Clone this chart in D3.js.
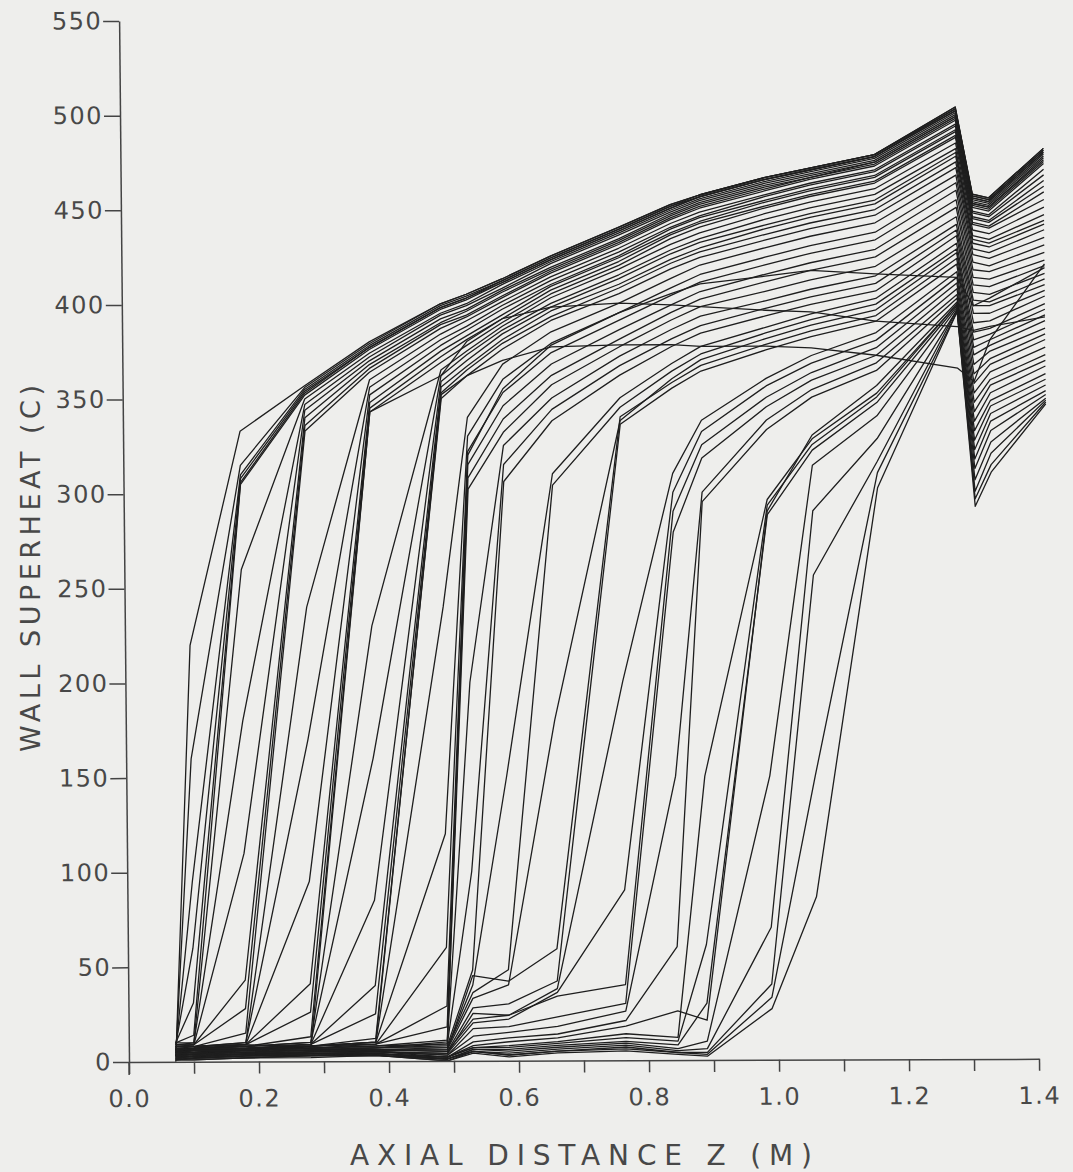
<!DOCTYPE html>
<html>
<head>
<meta charset="utf-8">
<script src="https://cdn.jsdelivr.net/npm/d3@7"></script>
<style>
  body { margin: 0; background: #eeeeec; }
  svg { display: block; }
</style>
</head>
<body>
<svg id="chart" width="1073" height="1172"></svg>
<script>
// axial nodes (m) at which the wall superheat was plotted
const axialZ = [0.072, 0.10, 0.18, 0.28, 0.38, 0.49, 0.53, 0.585, 0.66, 0.765, 0.845, 0.89, 0.99, 1.06, 1.16, 1.285, 1.31, 1.335, 1.42];

// wall superheat (C) per curve, one value per node above
// quench front between 0.07 and 0.10 m
const frontNode1 = [
  [0, 220, 333, 357, 380, 400, 405, 413, 425, 440, 452, 457, 466, 471, 478, 503, 457, 455, 481],
  [3, 160, 315, 356, 379, 400, 405, 413, 425, 440, 452, 457, 466, 471, 478, 503, 457, 455, 481],
  [6, 95, 310, 355, 378, 399, 404, 412, 424, 439, 451, 457, 466, 471, 478, 502, 456, 454, 480],
  [9, 60, 308, 354, 377, 398, 403, 412, 424, 439, 451, 456, 465, 470, 477, 502, 456, 454, 480],
  [10, 31, 306, 353, 377, 398, 403, 411, 423, 438, 450, 456, 465, 470, 477, 501, 455, 453, 479],
  [10, 14, 305, 352, 376, 397, 402, 411, 423, 438, 450, 456, 465, 470, 477, 501, 455, 453, 479]
];
// front at 0.18 m
const frontNode2 = [
  [10, 10, 260, 350, 374, 395, 400, 410, 422, 437, 449, 455, 464, 469, 476, 500, 454, 452, 478],
  [9, 10, 180, 347, 372, 394, 399, 408, 421, 436, 448, 454, 463, 468, 475, 499, 453, 451, 477],
  [9, 9, 110, 344, 370, 392, 397, 407, 419, 434, 447, 453, 462, 467, 474, 498, 452, 450, 476],
  [9, 9, 43, 340, 368, 390, 396, 406, 418, 433, 446, 452, 461, 466, 474, 498, 452, 450, 475],
  [8, 9, 28, 336, 366, 389, 394, 404, 417, 432, 445, 451, 460, 466, 473, 497, 451, 449, 474],
  [8, 8, 15, 333, 364, 387, 393, 403, 416, 431, 444, 450, 459, 465, 472, 496, 450, 448, 473]
];
// front at 0.28 m
const frontNode3 = [
  [8, 8, 10, 240, 360, 384, 391, 401, 414, 429, 442, 448, 457, 463, 470, 494, 448, 446, 470],
  [8, 8, 10, 170, 356, 381, 388, 399, 412, 427, 440, 446, 456, 462, 469, 493, 447, 445, 467],
  [8, 8, 9, 95, 352, 378, 386, 397, 410, 425, 439, 445, 454, 460, 467, 491, 445, 443, 464],
  [7, 8, 9, 41, 348, 375, 383, 394, 409, 424, 437, 443, 453, 459, 466, 490, 444, 442, 461],
  [7, 7, 9, 26, 345, 372, 381, 392, 407, 422, 436, 442, 451, 457, 464, 488, 442, 440, 458],
  [7, 7, 8, 13, 343, 369, 378, 390, 405, 420, 434, 440, 450, 456, 463, 487, 441, 439, 454]
];
// front at 0.38 m
const frontNode4 = [
  [7, 7, 8, 10, 230, 365, 375, 388, 403, 418, 431, 437, 447, 453, 460, 484, 438, 436, 450],
  [7, 7, 8, 10, 160, 362, 373, 386, 400, 415, 428, 434, 444, 450, 457, 481, 435, 433, 446],
  [6, 7, 8, 9, 85, 359, 370, 384, 398, 413, 426, 432, 441, 447, 454, 479, 433, 431, 443],
  [6, 7, 7, 9, 40, 356, 367, 381, 396, 410, 423, 429, 439, 445, 452, 477, 431, 429, 441],
  [6, 6, 7, 9, 25, 353, 365, 379, 393, 408, 421, 427, 436, 442, 449, 474, 428, 426, 438],
  [6, 6, 7, 8, 12, 350, 362, 376, 391, 405, 418, 424, 433, 439, 446, 471, 425, 423, 434]
];
// front at 0.49 m
const frontNode5 = [
  [6, 6, 7, 8, 10, 240, 340, 368, 385, 400, 413, 420, 429, 435, 442, 467, 421, 419, 430],
  [5, 6, 7, 8, 10, 120, 330, 360, 379, 395, 408, 415, 424, 430, 437, 463, 417, 416, 426],
  [5, 6, 7, 8, 9, 60, 322, 353, 374, 391, 404, 411, 420, 426, 433, 459, 413, 412, 422],
  [5, 6, 6, 8, 9, 29, 315, 346, 368, 386, 399, 406, 415, 421, 428, 454, 409, 408, 419],
  [5, 5, 6, 7, 9, 18, 308, 339, 362, 381, 395, 402, 411, 417, 424, 450, 405, 404, 415],
  [5, 5, 6, 7, 8, 11, 302, 332, 357, 377, 391, 398, 406, 412, 419, 445, 401, 400, 412]
];
// front above 0.5 m
const frontUpper = [
  [5, 5, 6, 7, 7, 10, 200, 325, 350, 372, 386, 393, 401, 407, 414, 441, 398, 398, 409],
  [5, 5, 6, 7, 7, 9, 100, 315, 344, 367, 381, 388, 397, 403, 410, 438, 394, 394, 406],
  [5, 5, 6, 6, 7, 8, 48, 306, 338, 362, 377, 384, 393, 399, 406, 435, 389, 390, 403],
  [4, 5, 6, 6, 7, 7, 40, 150, 310, 350, 368, 377, 387, 394, 402, 431, 384, 386, 399],
  [4, 5, 5, 6, 6, 7, 36, 48, 304, 345, 364, 373, 384, 391, 399, 428, 380, 383, 396],
  [4, 4, 5, 6, 6, 6, 33, 40, 180, 338, 360, 370, 381, 388, 396, 426, 376, 380, 393],
  [4, 4, 5, 6, 6, 6, 45, 42, 59, 340, 358, 367, 378, 385, 393, 423, 372, 377, 390],
  [4, 4, 5, 5, 6, 5, 28, 30, 42, 336, 355, 364, 375, 382, 390, 420, 367, 374, 386],
  [3, 4, 5, 5, 6, 5, 22, 24, 38, 200, 310, 338, 360, 372, 384, 416, 362, 370, 383],
  [3, 4, 4, 5, 5, 4, 20, 22, 36, 90, 300, 332, 356, 368, 380, 413, 357, 367, 380],
  [3, 4, 4, 5, 5, 4, 25, 24, 34, 40, 290, 325, 350, 363, 376, 410, 352, 363, 376],
  [3, 3, 4, 5, 5, 3, 17, 18, 23, 30, 279, 318, 345, 359, 372, 407, 347, 359, 372],
  [3, 3, 4, 4, 5, 3, 13, 15, 18, 26, 150, 300, 338, 354, 368, 404, 342, 356, 369],
  [3, 3, 4, 4, 5, 2, 10, 12, 14, 21, 60, 295, 333, 350, 364, 402, 337, 352, 366],
  [2, 3, 4, 4, 4, 2, 8, 10, 12, 18, 26, 21, 290, 330, 356, 400, 332, 348, 362],
  [2, 3, 3, 4, 4, 2, 7, 8, 10, 14, 12, 150, 296, 328, 352, 399, 327, 345, 359],
  [2, 3, 3, 4, 4, 2, 7, 7, 9, 12, 10, 61, 293, 325, 350, 399, 322, 341, 356],
  [2, 2, 3, 3, 4, 1, 6, 6, 8, 10, 8, 30, 288, 322, 347, 398, 317, 337, 353],
  [2, 2, 3, 3, 4, 1, 6, 5, 7, 9, 6, 10, 150, 314, 340, 397, 312, 332, 351],
  [1, 2, 3, 3, 3, 1, 5, 4, 6, 8, 5, 6, 70, 290, 328, 396, 306, 326, 349],
  [1, 2, 2, 3, 3, 1, 5, 3, 5, 7, 4, 4, 40, 256, 316, 396, 300, 320, 348],
  [1, 1, 2, 3, 3, 0, 5, 3, 5, 6, 4, 3, 33, 150, 310, 395, 296, 314, 347],
  [1, 1, 2, 2, 3, 0, 4, 2, 4, 5, 3, 2, 27, 86, 302, 395, 292, 310, 346]
];
// flatter profiles that cross the family
const crossing = [
  [8, 8, 9, 7, 343, 362, 380, 392, 398, 400, 399, 398, 396, 395, 390, 387, 385, 387, 392],
  [6, 7, 7, 8, 10, 352, 362, 370, 377, 378, 378, 377, 377, 376, 372, 365, 358, 380, 420],
  [5, 6, 6, 7, 8, 9, 320, 355, 378, 395, 405, 410, 414, 417, 415, 413, 398, 402, 418]
];

const yTicks = [0, 50, 100, 150, 200, 250, 300, 350, 400, 450, 500, 550];
const xTicks = [0, 0.1, 0.2, 0.3, 0.4, 0.5, 0.6, 0.7, 0.8, 0.9, 1.0, 1.1, 1.2, 1.3, 1.4];
const xLabelTicks = [0, 0.2, 0.4, 0.6, 0.8, 1.0, 1.2, 1.4];
const xTickLabels = ["0.0", "0.2", "0.4", "0.6", "0.8", "1.0", "1.2", "1.4"];

const allCurves = [].concat(frontNode1, frontNode2, frontNode3, frontNode4, frontNode5, frontUpper, crossing);

const svg = d3.select("#chart");
svg.append("rect").attr("width", 1073).attr("height", 1172).attr("fill", "#eeeeec");

// the scanned page is slightly sheared
const g = svg.append("g")
  .attr("transform", "matrix(1,-0.0035,0.0095,1,-10.09,0.45)");

const x = d3.scaleLinear().domain([0, 1.4]).range([129, 1039]);
const y = d3.scaleLinear().domain([0, 550]).range([1062, 21]);

const line = d3.line()
  .x((d, i) => x(axialZ[i]))
  .y(d => y(d));

g.append("g").selectAll("path")
  .data(allCurves)
  .join("path")
  .attr("d", line)
  .attr("fill", "none")
  .attr("stroke", "#1e1e1e")
  .attr("stroke-width", 1.3)
  .attr("stroke-linejoin", "round");

const fontStack = "'DejaVu Sans', 'Liberation Sans', sans-serif";

// y axis
const yAxis = g.append("g")
  .attr("transform", "translate(" + x(0) + ",0)")
  .call(d3.axisLeft(y).tickValues(yTicks).tickSize(16).tickSizeOuter(0).tickPadding(1));

// x axis
const xAxis = g.append("g")
  .attr("transform", "translate(0," + y(0) + ")")
  .call(d3.axisBottom(x).tickValues(xTicks).tickSize(12).tickSizeOuter(0).tickPadding(16)
    .tickFormat(d => {
      const i = xLabelTicks.findIndex(v => Math.abs(v - d) < 1e-9);
      return i >= 0 ? xTickLabels[i] : "";
    }));

// 0.0 tick continues the y axis below the x axis
g.append("line")
  .attr("x1", x(0)).attr("x2", x(0))
  .attr("y1", y(0)).attr("y2", y(0) + 13)
  .attr("stroke", "#444").attr("stroke-width", 1.5);

[yAxis, xAxis].forEach(a => {
  a.selectAll("path.domain").attr("stroke", "#444").attr("stroke-width", 1.5);
  a.selectAll(".tick line").attr("stroke", "#444").attr("stroke-width", 1.5);
  a.selectAll("text")
    .attr("fill", "#484848")
    .style("font-family", fontStack)
    .style("font-size", "24px")
    .style("letter-spacing", "1.5px");
});

// axis titles
svg.append("text")
  .attr("x", 350).attr("y", 1165)
  .attr("textLength", 462).attr("lengthAdjust", "spacing")
  .attr("fill", "#484848")
  .style("font-family", fontStack)
  .style("font-size", "28px")
  .text("AXIAL DISTANCE Z (M)");

svg.append("text")
  .attr("transform", "translate(40,752) rotate(-90)")
  .attr("textLength", 367).attr("lengthAdjust", "spacing")
  .attr("fill", "#484848")
  .style("font-family", fontStack)
  .style("font-size", "27px")
  .text("WALL SUPERHEAT (C)");
</script>
</body>
</html>
